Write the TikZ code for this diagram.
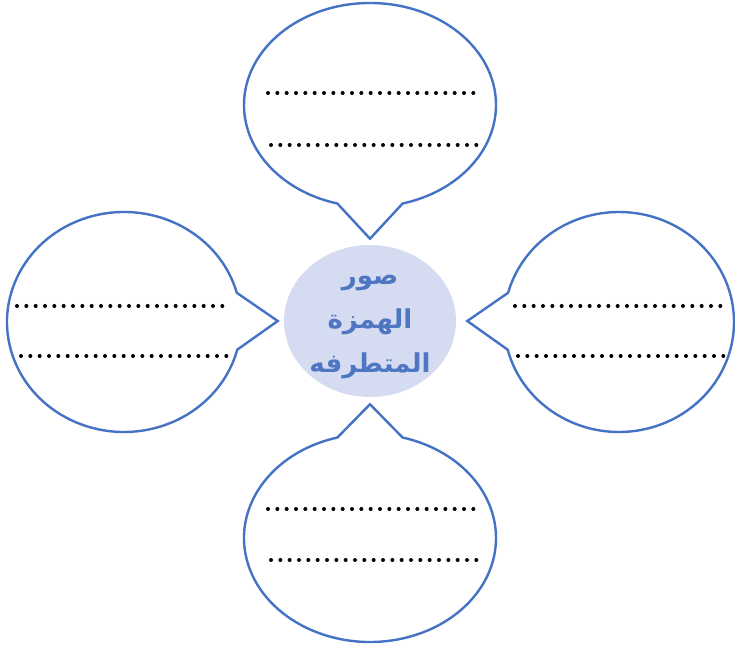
\documentclass[tikz,border=0pt]{standalone}
\usepackage{fontspec}
\newfontfamily\arabicfont[Script=Arabic]{DejaVu Sans}
\TeXXeTstate=1
\usetikzlibrary{shapes.geometric,shapes.callouts,calc}
\definecolor{lineC}{HTML}{4472C4}
\definecolor{coreC}{HTML}{D5DBF0}
\definecolor{textC}{HTML}{4F76C2}
\tikzset{
  core/.style={ellipse, fill=coreC, minimum width=129pt, minimum height=114pt, inner sep=0pt},
  title/.style={align=center, inner sep=0pt, text=textC,
                font=\arabicfont\bfseries\fontsize{19.5}{33}\selectfont},
  bubble/.style={ellipse callout, draw=lineC, line width=1.8pt, fill=white, callout pointer arc=30},
  dotrow/.style={line width=3pt, line cap=round, dash pattern=on 0pt off 7pt},
}
\begin{document}
\begin{tikzpicture}[x=0.75pt, y=0.75pt]
\useasboundingbox (0,0) rectangle (735,646);
\node[core] (core) at (370,325) {};
\node[title] (label) at ($(core.center)+(0,-6)$) {\beginR صور\endR\\ \beginR الهمزة\endR\\ \beginR المتطرفه\endR};
% four bubbles pointing at the core
\node[bubble, minimum width=189pt, minimum height=153pt,
  callout absolute pointer={($(core.north)+(0,6)$)}] (north) at (370,541) {};
\node[bubble, minimum width=189pt, minimum height=156pt,
  callout absolute pointer={($(core.south)+(0,-7)$)}] (south) at (370,108) {};
\node[bubble, minimum width=175.5pt, minimum height=165pt,
  callout absolute pointer={($(core.west)+(-6,0)$)}] (west) at (124,324) {};
\node[bubble, minimum width=172.5pt, minimum height=165pt,
  callout absolute pointer={($(core.east)+(11,0)$)}] (east) at (619,324) {};
% dotted writing rows
\foreach \b/\ya/\yb/\xa/\xb in {north/12/-40/-102/-99, south/29/-22/-102/-99,
                                west/16/-34/-107/-103, east/16/-34/-104/-101}{
  \draw[dotrow] ($(\b.center)+(\xa,\ya)$) -- ++(207,0);
  \draw[dotrow] ($(\b.center)+(\xb,\yb)$) -- ++(207,0);
}
\end{tikzpicture}
\end{document}
